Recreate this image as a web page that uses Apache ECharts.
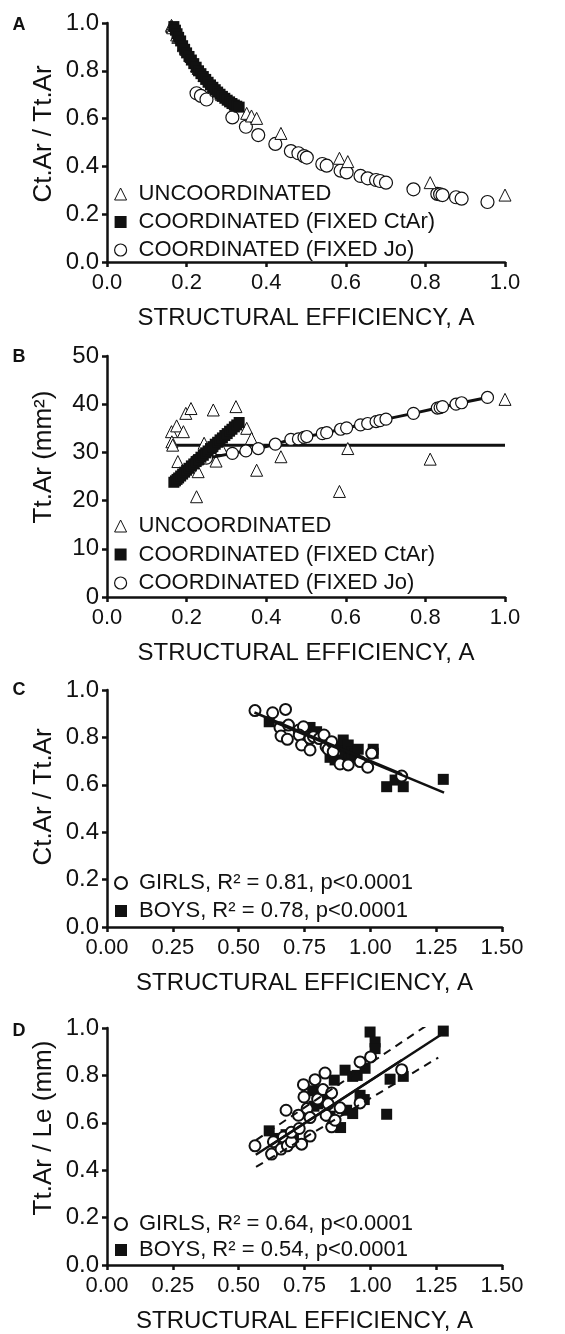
<!DOCTYPE html>
<html><head><meta charset="utf-8">
<script src="https://cdn.jsdelivr.net/npm/echarts@6/dist/echarts.min.js"></script>
<style>html,body{margin:0;padding:0;background:#fff}#c{width:565px;height:1334px}</style>
</head><body><div id="c"></div>
<script>
// ---------- DATA ----------
// Panel A/B : uncoordinated (triangles)
const uncoEff   = [0.162,0.163,0.165,0.175,0.178,0.192,0.198,0.211,0.225,0.229,0.244,0.267,0.274,0.288,0.324,0.351,0.363,0.376,0.437,0.584,0.605,0.812,1.0];
const uncoRatio = [0.99,0.985,0.98,0.95,0.94,0.905,0.89,0.86,0.82,0.81,0.78,0.735,0.72,0.70,0.66,0.622,0.611,0.601,0.538,0.434,0.42,0.332,0.28];
const uncoTtAr  = [34.3,32.2,31.5,35.5,28.1,34.3,38.1,39.1,20.8,26.0,31.9,38.8,28.2,30.8,39.5,35.0,32.9,26.3,29.1,21.9,30.8,28.6,41.0];
// coordinated, fixed CtAr (filled squares)
const ctarEff   = [0.168,0.172,0.176,0.180,0.185,0.190,0.195,0.200,0.206,0.212,0.218,0.224,0.230,0.236,0.242,0.248,0.254,0.260,0.266,0.272,0.278,0.284,0.290,0.296,0.302,0.308,0.314,0.320,0.326,0.332];
const ctarRatio = [0.985,0.97,0.955,0.94,0.925,0.905,0.89,0.875,0.86,0.845,0.83,0.815,0.80,0.788,0.776,0.764,0.752,0.741,0.731,0.721,0.711,0.702,0.693,0.685,0.677,0.670,0.663,0.657,0.652,0.648];
const ctarTtAr  = [23.8,24.1,24.4,24.7,25.1,25.5,25.9,26.3,26.7,27.2,27.6,28.1,28.5,29.0,29.4,29.9,30.3,30.8,31.2,31.7,32.1,32.6,33.0,33.5,33.9,34.4,34.8,35.3,35.7,36.2];
// coordinated, fixed Jo (open circles)
const joEff   = [0.225,0.236,0.25,0.315,0.349,0.38,0.423,0.462,0.481,0.495,0.502,0.541,0.552,0.587,0.602,0.637,0.655,0.676,0.686,0.701,0.77,0.83,0.837,0.843,0.877,0.891,0.956];
const joRatio = [0.706,0.695,0.68,0.605,0.566,0.531,0.494,0.464,0.455,0.443,0.437,0.41,0.403,0.382,0.375,0.36,0.35,0.343,0.339,0.332,0.304,0.285,0.283,0.28,0.271,0.265,0.251];
const joTtAr  = [28.3,28.6,28.8,29.8,30.3,30.8,31.7,32.7,32.8,33.1,33.3,33.9,34.1,34.8,35.1,35.7,36.0,36.4,36.6,36.9,38.1,39.2,39.3,39.5,40.0,40.3,41.4];
// mean Tt.Ar of uncoordinated (horizontal line, panel B)
const meanLineEff  = [0.162, 1.0];
const meanLineTtAr = [31.5, 31.5];

// Panel C : Ct.Ar/Tt.Ar vs A
const girlsEffC   = [0.562,0.629,0.678,0.657,0.661,0.685,0.689,0.729,0.746,0.73,0.739,0.771,0.771,0.784,0.806,0.824,0.832,0.84,0.853,0.859,0.885,0.916,0.961,0.99,1.005,1.119];
const girlsRatioC = [0.913,0.904,0.918,0.841,0.806,0.792,0.852,0.831,0.845,0.81,0.768,0.796,0.747,0.803,0.795,0.81,0.761,0.75,0.782,0.74,0.688,0.684,0.698,0.674,0.733,0.637];
const boysEffC    = [0.616,0.771,0.796,0.847,0.866,0.88,0.897,0.904,0.916,0.92,0.929,0.94,0.954,1.011,1.011,1.062,1.094,1.125,1.277];
const boysRatioC  = [0.866,0.842,0.824,0.716,0.705,0.76,0.789,0.722,0.768,0.71,0.74,0.73,0.75,0.75,0.733,0.592,0.62,0.592,0.623];
const girlsFitCEff = [0.56, 1.12],  girlsFitCVal = [0.905, 0.645];
const boysFitCEff  = [0.62, 1.28],  boysFitCVal  = [0.872, 0.567];

// Panel D : Tt.Ar/Le vs A
const girlsEffD  = [0.562,0.625,0.632,0.661,0.67,0.68,0.685,0.70,0.70,0.727,0.73,0.739,0.746,0.748,0.76,0.771,0.771,0.79,0.80,0.82,0.828,0.832,0.84,0.853,0.853,0.866,0.885,0.961,0.961,1.001,1.119];
const girlsTtLe  = [0.503,0.468,0.52,0.489,0.54,0.653,0.503,0.52,0.56,0.632,0.576,0.51,0.761,0.709,0.66,0.544,0.622,0.782,0.70,0.74,0.81,0.632,0.68,0.726,0.583,0.611,0.663,0.857,0.684,0.878,0.824];
const boysEffD   = [0.616,0.639,0.68,0.708,0.781,0.786,0.80,0.803,0.82,0.847,0.863,0.887,0.904,0.91,0.933,0.933,0.95,0.961,0.977,0.98,0.999,1.018,1.018,1.062,1.075,1.125,1.277];
const boysTtLe   = [0.566,0.534,0.55,0.534,0.735,0.67,0.68,0.709,0.70,0.628,0.78,0.58,0.822,0.653,0.639,0.796,0.80,0.716,0.698,0.83,0.983,0.941,0.913,0.636,0.784,0.796,0.987];
const girlsFitDEff = [0.565, 1.12], girlsFitDVal = [0.465, 0.865];
const boysFitDEff  = [0.615, 1.28], boysFitDVal  = [0.50, 0.98];
const upperDashEff = [0.566, 1.277], upperDashVal = [0.527, 1.058];
const lowerDashEff = [0.566, 1.258], lowerDashVal = [0.414, 0.875];

// tick labels
const effTicksAB = ['0.0','0.2','0.4','0.6','0.8','1.0'];
const effTicksCD = ['0.00','0.25','0.50','0.75','1.00','1.25','1.50'];
const ratioTicks = ['0.0','0.2','0.4','0.6','0.8','1.0'];
const ttarTicks  = ['0','10','20','30','40','50'];

// ---------- CHART ----------
const FONT = 'Liberation Sans, Arial, Helvetica, sans-serif';
const INK = '#111111';
const zip = (a, b) => a.map((v, i) => [v, b[i]]);
const tickFmt = (labels, min, step) => v => labels[Math.round((v - min) / step)];

function xAx(gi, max, interval, labels) {
  return {
    gridIndex: gi, type: 'value', min: 0, max: max, interval: interval,
    name: 'STRUCTURAL EFFICIENCY, A', nameLocation: 'middle', nameGap: 44,
    nameTextStyle: {fontSize: 24, color: INK, fontFamily: FONT},
    axisLine: {lineStyle: {color: INK, width: 2.5}},
    axisTick: {length: 5, lineStyle: {color: INK, width: 2.5}},
    axisLabel: {fontSize: 22, color: INK, fontFamily: FONT, margin: 10, formatter: tickFmt(labels, 0, interval)},
    splitLine: {show: false}
  };
}
function yAx(gi, max, interval, labels) {
  return {
    gridIndex: gi, type: 'value', min: 0, max: max, interval: interval,
    axisLine: {lineStyle: {color: INK, width: 2.5}},
    axisTick: {length: 5, lineStyle: {color: INK, width: 2.5}},
    axisLabel: {fontSize: 24, color: INK, fontFamily: FONT, margin: 8, formatter: tickFmt(labels, 0, interval)},
    splitLine: {show: false}
  };
}
const triStyle = {color: '#fff', borderColor: INK, borderWidth: 1, opacity: 1};
const openCircThin = {color: '#fff', borderColor: INK, borderWidth: 1.2, opacity: 1};
const openCircThick = {color: '#fff', borderColor: INK, borderWidth: 2, opacity: 1};
const fillSq = {color: INK, opacity: 1};

function sc(name, xi, x, y, symbol, size, style, z) {
  return {type: 'scatter', name: name, xAxisIndex: xi, yAxisIndex: xi, data: zip(x, y),
    symbol: symbol, symbolSize: size, itemStyle: style, z: z || 2, silent: true};
}
function ln(xi, x, y, width, dashed, z) {
  return {type: 'line', xAxisIndex: xi, yAxisIndex: xi, data: zip(x, y), symbol: 'none',
    lineStyle: {color: INK, width: width, type: dashed ? [8, 6] : 'solid'}, z: z || 3, silent: true};
}
function legend(top, names, gap) {
  return {
    orient: 'vertical', left: 114, top: top, itemGap: gap, itemWidth: 12, itemHeight: 12,
    padding: 0, selectedMode: false, symbolKeepAspect: true,
    textStyle: {fontSize: 22, color: INK, fontFamily: FONT, lineHeight: 22, padding: [0, 0, 0, 7]},
    data: names
  };
}
const N_UNCO = 'UNCOORDINATED', N_CTAR = 'COORDINATED (FIXED CtAr)', N_JO = 'COORDINATED (FIXED Jo)';
const N_GC = 'GIRLS, R\u00b2 = 0.81, p<0.0001', N_BC = 'BOYS, R\u00b2 = 0.78, p<0.0001';
const N_GD = 'GIRLS, R\u00b2 = 0.64, p<0.0001', N_BD = 'BOYS, R\u00b2 = 0.54, p<0.0001';
const abLegend = [
  {name: N_UNCO, icon: 'triangle', itemStyle: triStyle},
  {name: N_CTAR, icon: 'rect', itemStyle: fillSq},
  {name: N_JO, icon: 'circle', itemStyle: openCircThin}
];

function yName(text, x, y) {
  return {type: 'text', x: x, y: y, rotation: Math.PI / 2, silent: true,
    style: {text: text, fontSize: 26, fontFamily: FONT, fill: INK, align: 'center', verticalAlign: 'middle'}};
}
function letter(text, x, y) {
  return {type: 'text', x: x, y: y, silent: true,
    style: {text: text, fontSize: 18, fontWeight: 'bold', fontFamily: FONT, fill: INK, align: 'center', verticalAlign: 'middle'}};
}

const option = {
  animation: false,
  backgroundColor: '#fff',
  grid: [
    {left: 107, top: 23, width: 398, height: 239},
    {left: 107, top: 356, width: 398, height: 241},
    {left: 107, top: 690, width: 395, height: 237},
    {left: 107, top: 1028, width: 395, height: 237}
  ],
  xAxis: [xAx(0, 1, 0.2, effTicksAB), xAx(1, 1, 0.2, effTicksAB), xAx(2, 1.5, 0.25, effTicksCD), xAx(3, 1.5, 0.25, effTicksCD)],
  yAxis: [yAx(0, 1, 0.2, ratioTicks), yAx(1, 50, 10, ttarTicks), yAx(2, 1, 0.2, ratioTicks), yAx(3, 1, 0.2, ratioTicks)],
  legend: [
    legend(183, abLegend, 6),
    legend(515, abLegend, 6.5),
    legend(872, [{name: N_GC, icon: 'circle', itemStyle: openCircThick}, {name: N_BC, icon: 'rect', itemStyle: fillSq}], 6),
    legend(1213, [{name: N_GD, icon: 'circle', itemStyle: openCircThick}, {name: N_BD, icon: 'rect', itemStyle: fillSq}], 4)
  ],
  graphic: [
    letter('A', 19, 25), letter('B', 19, 357), letter('C', 19, 690), letter('D', 19, 1031),
    yName('Ct.Ar / Tt.Ar', 44, 134),
    yName('Tt.Ar (mm\u00b2)', 44, 457),
    yName('Ct.Ar / Tt.Ar', 44, 797),
    yName('Tt.Ar / Le (mm)', 44, 1128)
  ],
  series: [
    // A
    sc(N_JO, 0, joEff, joRatio, 'circle', 13, openCircThin, 2),
    sc(N_UNCO, 0, uncoEff, uncoRatio, 'triangle', 12, triStyle, 3),
    sc(N_CTAR, 0, ctarEff, ctarRatio, 'rect', 11, fillSq, 4),
    // B
    ln(1, meanLineEff, meanLineTtAr, 3, false, 2),
    sc(N_UNCO, 1, uncoEff, uncoTtAr, 'triangle', 12, triStyle, 3),
    ln(1, joEff, joTtAr, 3, false, 4),
    sc(N_JO, 1, joEff, joTtAr, 'circle', 12, openCircThin, 5),
    sc(N_CTAR, 1, ctarEff, ctarTtAr, 'rect', 11, fillSq, 6),
    // C
    sc(N_BC, 2, boysEffC, boysRatioC, 'rect', 11, fillSq, 2),
    sc(N_GC, 2, girlsEffC, girlsRatioC, 'circle', 11, openCircThick, 3),
    ln(2, boysFitCEff, boysFitCVal, 2.5, false, 4),
    ln(2, girlsFitCEff, girlsFitCVal, 2.5, false, 4),
    // D
    sc(N_BD, 3, boysEffD, boysTtLe, 'rect', 11, fillSq, 2),
    sc(N_GD, 3, girlsEffD, girlsTtLe, 'circle', 11, openCircThick, 3),
    ln(3, boysFitDEff, boysFitDVal, 2.5, false, 4),
    ln(3, girlsFitDEff, girlsFitDVal, 2.5, false, 4),
    ln(3, upperDashEff, upperDashVal, 2, true, 4),
    ln(3, lowerDashEff, lowerDashVal, 2, true, 4)
  ]
};
const chart = echarts.init(document.getElementById('c'), null, {renderer: 'canvas'});
chart.setOption(option);
</script></body></html>
